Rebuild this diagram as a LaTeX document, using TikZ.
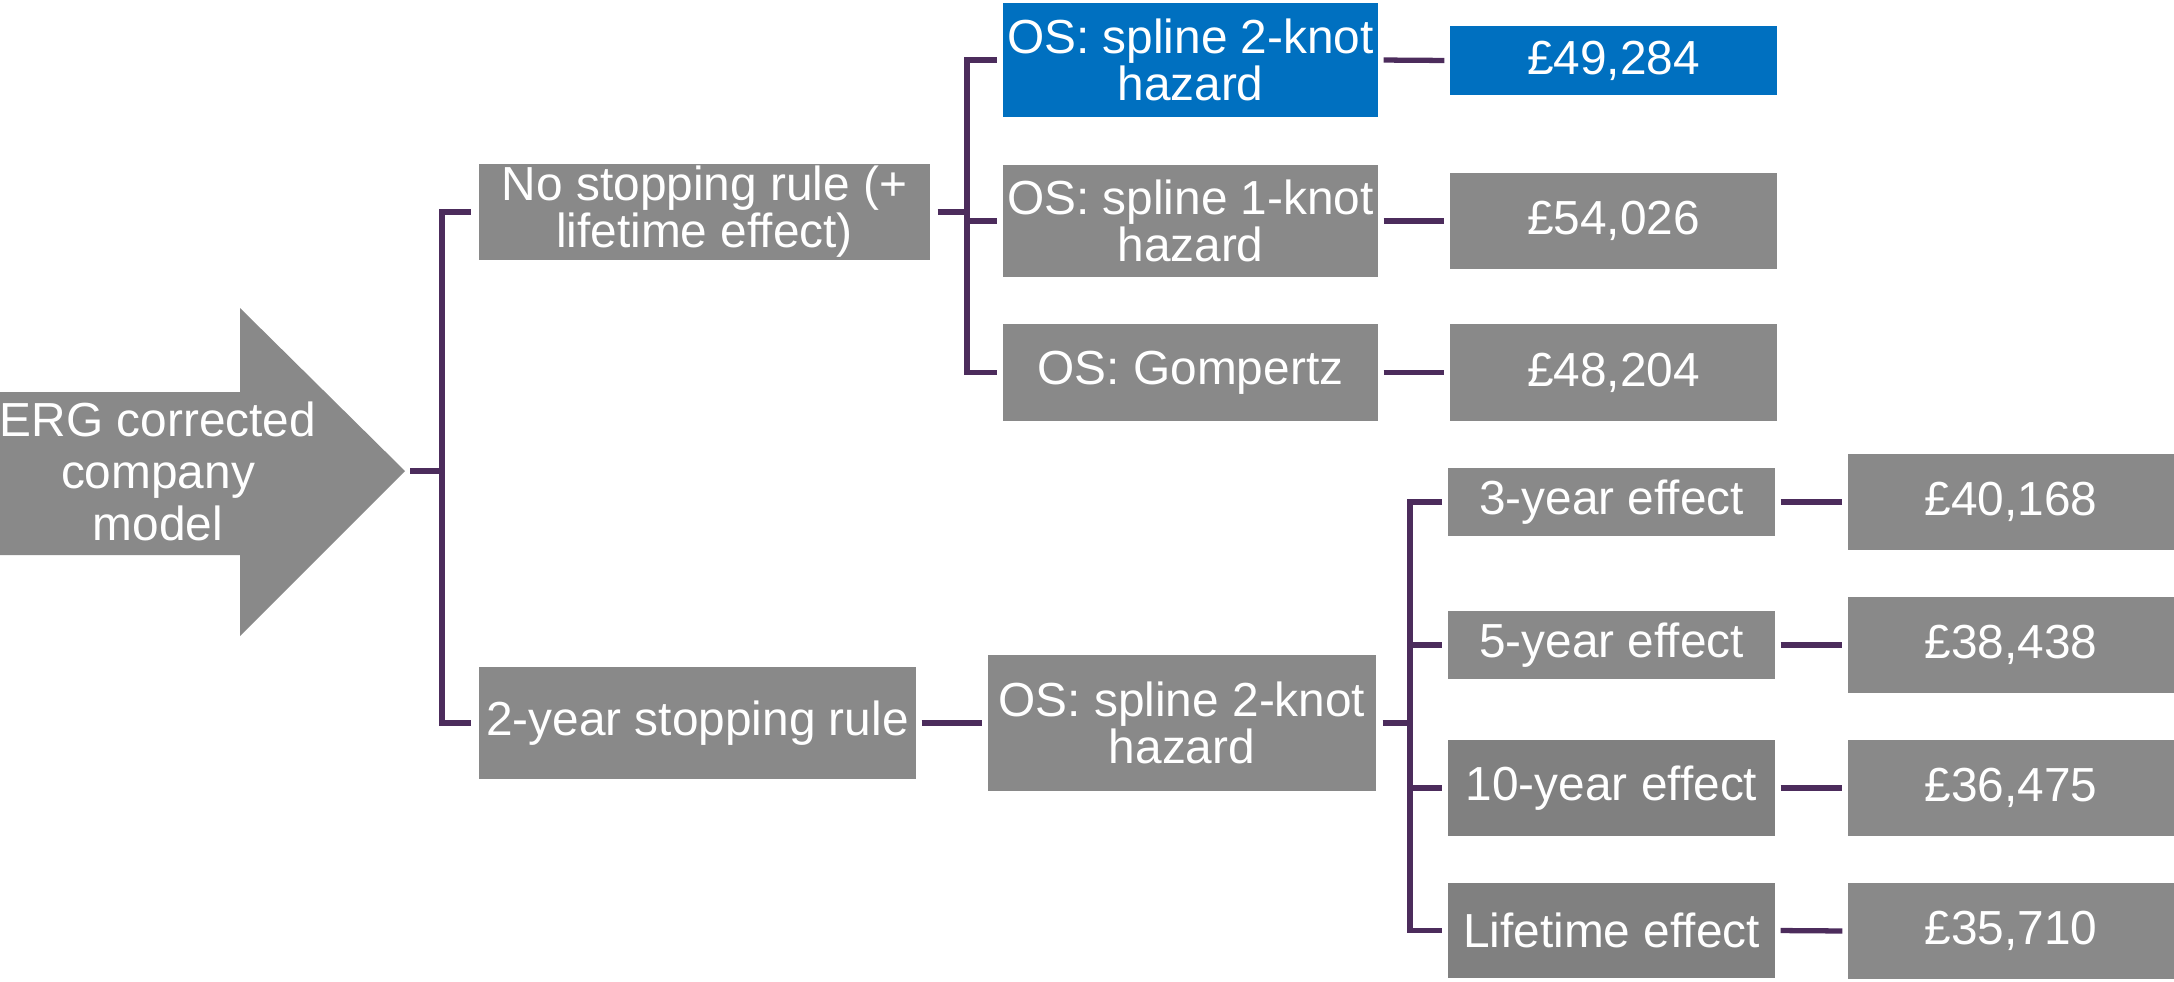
\documentclass[tikz,border=0pt]{standalone}
\usepackage{fontspec}
\setmainfont{Liberation Sans}
\usetikzlibrary{positioning, calc}

\definecolor{boxgray}{RGB}{137,137,137}
\definecolor{darkbox}{RGB}{128,128,128}
\definecolor{selblue}{RGB}{0,112,192}
\definecolor{linkpurple}{RGB}{76,44,92}

\begin{document}
\begin{tikzpicture}[
            box/.style={rectangle, fill=boxgray, text=white, align=center, inner sep=0pt,
                        font=\fontsize{13.6pt}{13.4pt}\selectfont},
            sel/.style={box, fill=selblue},
            link/.style={draw=linkpurple, line width=1.5pt}]

            \useasboundingbox (0,0) rectangle (21.74,-9.81);

            % big arrow
            \fill[boxgray] (0,-3.92) -- (2.40,-3.92) -- (2.40,-3.08) -- (4.05,-4.71)
                -- (2.40,-6.36) -- (2.40,-5.55) -- (0,-5.55) -- cycle;
            \node[box, fill=none, font=\fontsize{13.6pt}{14.8pt}\selectfont] (erg) at (1.58,-4.71) {ERG corrected\\company\\model};
            \coordinate (tip) at (4.10,-4.71);

            \node[box, minimum width=4.51cm, minimum height=0.96cm] (ns) at (7.045,-2.12) {No stopping rule (+\\lifetime effect)};
            \node[box, minimum width=4.37cm, minimum height=1.12cm] (sr) at (6.975,-7.23) {2-year stopping rule};

            \node[sel, minimum width=3.75cm, minimum height=1.14cm] (os1) at (11.905,-0.60) {OS: spline 2-knot\\hazard};
            \node[box, minimum width=3.75cm, minimum height=1.12cm] (os2) at (11.905,-2.21) {OS: spline 1-knot\\hazard};
            \node[box, minimum width=3.75cm, minimum height=0.97cm] (os3) at (11.905,-3.725) {OS: Gompertz};
            \node[sel, minimum width=3.27cm, minimum height=0.69cm] (v1) at (16.135,-0.605) {£49,284};
            \node[box, minimum width=3.27cm, minimum height=0.96cm] (v2) at (16.135,-2.21) {£54,026};
            \node[box, minimum width=3.27cm, minimum height=0.97cm] (v3) at (16.135,-3.725) {£48,204};

            \node[box, minimum width=3.88cm, minimum height=1.36cm] (osb) at (11.82,-7.23) {OS: spline 2-knot\\hazard};
            \node[box, minimum width=3.27cm, minimum height=0.68cm] (e3) at (16.115,-5.02) {3-year effect};
            \node[box, minimum width=3.27cm, minimum height=0.68cm] (e5) at (16.115,-6.45) {5-year effect};
            \node[box, fill=darkbox, minimum width=3.27cm, minimum height=0.96cm] (e10) at (16.115,-7.88) {10-year effect};
            \node[box, fill=darkbox, minimum width=3.27cm, minimum height=0.95cm] (elt) at (16.115,-9.305) {Lifetime effect};
            \node[box, minimum width=3.26cm, minimum height=0.96cm] (w3) at (20.11,-5.02) {£40,168};
            \node[box, minimum width=3.26cm, minimum height=0.96cm] (w5) at (20.11,-6.45) {£38,438};
            \node[box, minimum width=3.26cm, minimum height=0.96cm] (w10) at (20.11,-7.88) {£36,475};
            \node[box, minimum width=3.26cm, minimum height=0.96cm] (wlt) at (20.11,-9.31) {£35,710};

            % brackets
            \coordinate (j1) at (4.42,-4.71);
            \coordinate (j2) at (9.67,-2.12);
            \coordinate (j3) at (14.10,-7.23);

            \draw[link] (tip) -- (j1);
            \draw[link] (j1) |- ([xshift=-0.07cm]ns.west);
            \draw[link] (j1) |- ([xshift=-0.07cm]sr.west);

            \draw[link] ([xshift=0.07cm]ns.east) -- (j2);
            \foreach \n in {os1, os2, os3}
                \draw[link] (j2) |- ([xshift=-0.05cm]\n.west);

            \draw[link] ([xshift=0.06cm]osb.east) -- (j3);
            \foreach \n in {e3, e5, e10, elt}
                \draw[link] (j3) |- ([xshift=-0.05cm]\n.west);

            % stubs
            \draw[link, shorten <=0.05cm, shorten >=0.05cm] (sr.east) -- (osb.west);
            \draw[link, shorten <=0.05cm, shorten >=0.05cm] (os1.east) -- (v1.west);
            \draw[link, shorten <=0.05cm, shorten >=0.05cm] (os2.east) -- (v2.west);
            \draw[link, shorten <=0.05cm, shorten >=0.05cm] (os3.east) -- (v3.west);
            \draw[link, shorten <=0.05cm, shorten >=0.05cm] (e3.east) -- (w3.west);
            \draw[link, shorten <=0.05cm, shorten >=0.05cm] (e5.east) -- (w5.west);
            \draw[link, shorten <=0.05cm, shorten >=0.05cm] (e10.east) -- (w10.west);
            \draw[link, shorten <=0.05cm, shorten >=0.05cm] (elt.east) -- (wlt.west);
        \end{tikzpicture}
\end{document}
